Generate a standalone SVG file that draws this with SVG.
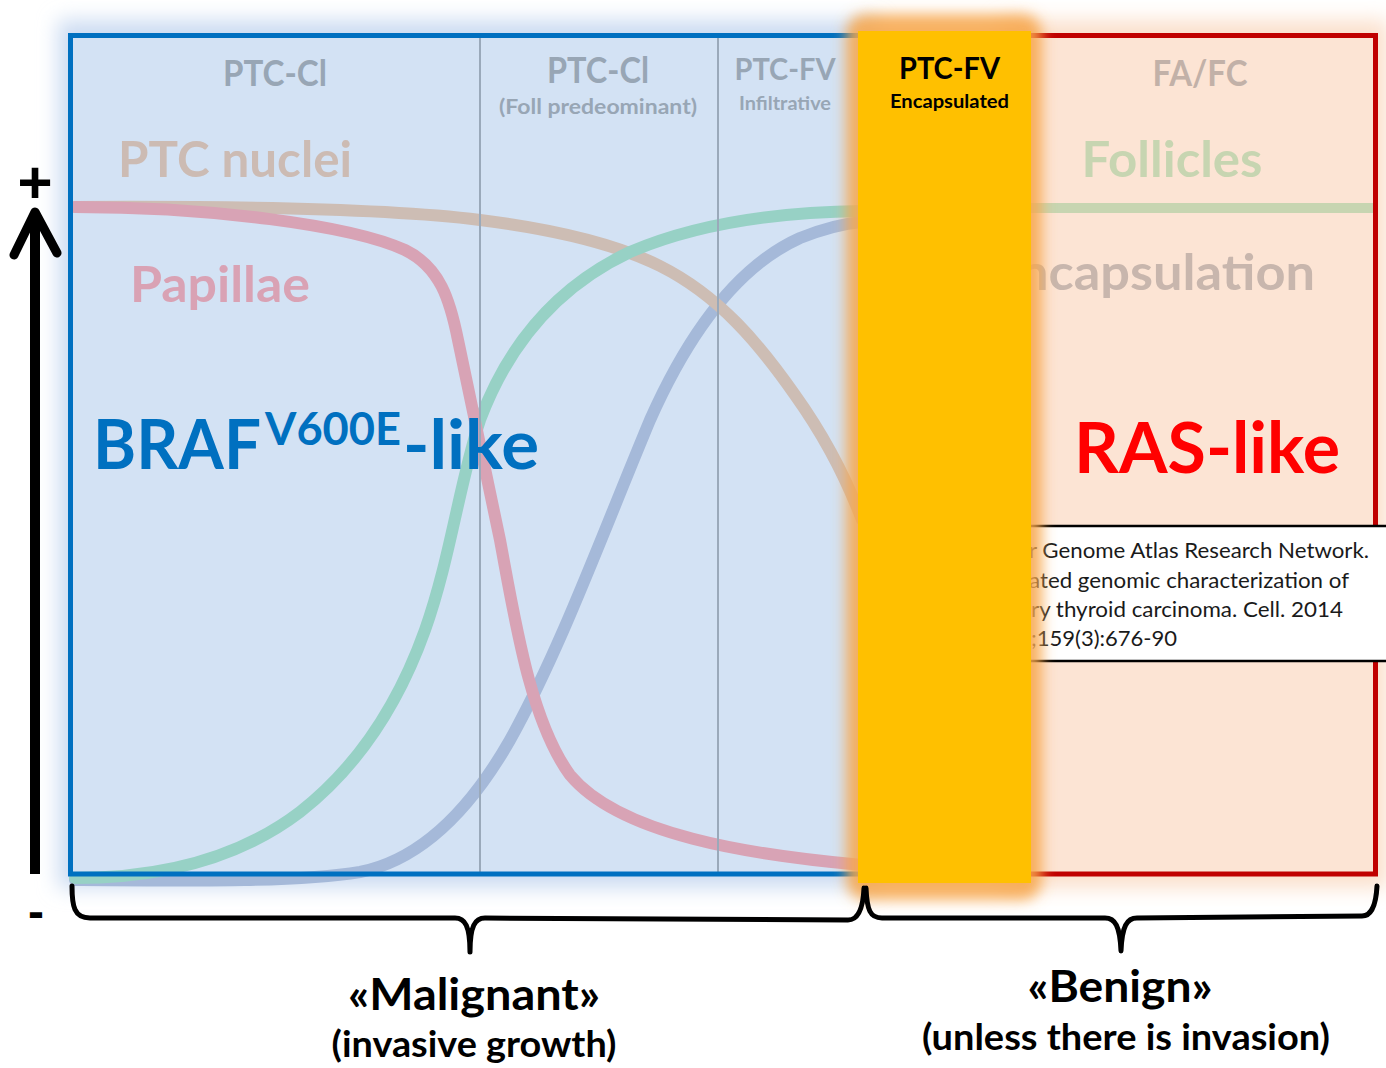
<svg xmlns="http://www.w3.org/2000/svg" width="1386" height="1068" viewBox="0 0 1386 1068">
<style>
text{font-family:Lato,"Open Sans","Liberation Sans",sans-serif;font-weight:bold;text-anchor:middle}
.hdr{fill:#98A6B5}
.big{font-size:49px}
.curve{fill:none;stroke-width:12;stroke-linecap:round}
.brace{fill:none;stroke:#000;stroke-width:5;stroke-linecap:round;stroke-linejoin:round}
.cite{font-weight:normal;font-size:21px;fill:#1a1a1a;text-anchor:start}
.lbl{fill:#000}
</style>
<defs>
<filter id="halo" x="-10%" y="-10%" width="120%" height="120%"><feGaussianBlur stdDeviation="10"/></filter>
<filter id="glow" x="-30%" y="-6%" width="160%" height="112%"><feGaussianBlur stdDeviation="7"/></filter>
</defs>
<rect width="1386" height="1068" fill="#fff"/>

<g id="halos">
<rect x="58" y="20" width="820" height="868" fill="#CCDCF2" filter="url(#halo)"/>
<rect x="1000" y="20" width="388" height="868" fill="#FBE0CC" filter="url(#halo)"/>
</g>

<g id="braf-panel">
<rect x="70.5" y="35.5" width="810" height="838.5" fill="#D3E2F4"/>
</g>
<g id="ras-panel">
<rect x="1000" y="35.5" width="375.5" height="838.5" fill="#FCE4D4"/>
</g>

<g id="connectors">
<path class="curve" stroke="#A5B9D9" d="M75,880 C200,881 300,882 360,872 C420,860 470,810 510,740 C560,650 600,540 650,420 C690,330 740,265 800,238 C830,226 850,223 862,222"/>
<path class="curve" stroke="#CDBDB4" d="M75,207 C250,206 400,210 480,220 C560,230 620,246 660,266 C720,296 760,345 795,395 C820,430 845,475 862,520"/>
<path class="curve" stroke="#97D1C5" d="M75,878 C180,878 250,850 300,812 C360,765 400,700 425,630 C450,560 460,480 480,420 C510,340 560,285 630,252 C700,222 780,212 862,211"/>
<path class="curve" stroke="#D8A3B5" d="M75,207 C210,207 350,225 405,250 C440,267 450,300 458,340 C470,400 485,470 500,540 C515,620 530,720 570,775 C620,835 750,855 862,865"/>
<line x1="1000" y1="208" x2="1373" y2="208" stroke="#C7D5B1" stroke-width="10"/>
</g>

<g id="dividers" stroke="#9AA9BA" stroke-width="2">
<line x1="480" y1="38" x2="480" y2="872"/>
<line x1="718" y1="38" x2="718" y2="872"/>
</g>

<g id="borders" fill="none" stroke-width="5">
<rect x="70.5" y="35.5" width="810" height="838.5" stroke="#0070C0"/>
<rect x="1000" y="35.5" width="375.5" height="838.5" stroke="#C00000"/>
</g>

<g id="col-ptc-cl">
<text class="hdr" x="275" y="86" font-size="36" textLength="104" lengthAdjust="spacingAndGlyphs">PTC-Cl</text>
</g>
<g id="col-ptc-cl-foll">
<text class="hdr" x="598" y="83" font-size="36" textLength="102" lengthAdjust="spacingAndGlyphs">PTC-Cl</text>
<text class="hdr" x="598" y="114" font-size="21" textLength="198" lengthAdjust="spacingAndGlyphs">(Foll predeominant)</text>
</g>
<g id="col-ptc-fv-inf">
<text class="hdr" x="785" y="80" font-size="31" textLength="101" lengthAdjust="spacingAndGlyphs">PTC-FV</text>
<text class="hdr" x="785" y="110" font-size="18" textLength="92" lengthAdjust="spacingAndGlyphs">Infiltrative</text>
</g>
<g id="col-fa-fc">
<text fill="#C2B1A8" x="1200" y="86" font-size="36" textLength="95" lengthAdjust="spacingAndGlyphs">FA/FC</text>
</g>

<g id="label-ptc-nuclei"><text class="big" fill="#CCBBB3" x="235" y="177" textLength="234" lengthAdjust="spacingAndGlyphs">PTC nuclei</text></g>
<g id="label-papillae"><text class="big" fill="#D9A2B4" x="220" y="302" textLength="180" lengthAdjust="spacingAndGlyphs">Papillae</text></g>
<g id="label-follicles"><text class="big" fill="#C7D5B1" x="1172" y="177" textLength="181" lengthAdjust="spacingAndGlyphs">Follicles</text></g>
<g id="label-encapsulation"><text class="big" fill="#C8B6AD" x="1315" y="290" style="text-anchor:end" textLength="296" lengthAdjust="spacingAndGlyphs">ncapsulation</text></g>

<g id="label-braf">
<text fill="#0070C0" style="text-anchor:start"><tspan x="93" y="469" font-size="68" textLength="168" lengthAdjust="spacingAndGlyphs">BRAF</tspan><tspan x="265" y="445" font-size="46" textLength="136" lengthAdjust="spacingAndGlyphs">V600E</tspan><tspan x="403" y="469" font-size="68" textLength="136" lengthAdjust="spacingAndGlyphs">-like</tspan></text>
</g>
<g id="label-ras"><text fill="#FF0000" x="1207" y="473" font-size="70" textLength="266" lengthAdjust="spacingAndGlyphs">RAS-like</text></g>

<g id="citation">
<rect x="1000" y="526" width="390" height="135" fill="#fff"/>
<line x1="1000" y1="526" x2="1386" y2="526" stroke="#000" stroke-width="2.5"/>
<line x1="1000" y1="661" x2="1386" y2="661" stroke="#000" stroke-width="2.5"/>
<text class="cite" x="1029" y="558" textLength="340" lengthAdjust="spacingAndGlyphs">r Genome Atlas Research Network.</text>
<text class="cite" x="1029" y="588" textLength="320" lengthAdjust="spacingAndGlyphs">ated genomic characterization of</text>
<text class="cite" x="1031" y="617" textLength="312" lengthAdjust="spacingAndGlyphs">ry thyroid carcinoma. Cell. 2014</text>
<text class="cite" x="1031" y="646" textLength="146" lengthAdjust="spacingAndGlyphs">;159(3):676-90</text>
</g>

<g id="ptc-fv-encapsulated">
<rect x="846" y="14" width="196" height="886" rx="20" fill="#F7A64B" fill-opacity="0.88" filter="url(#glow)"/>
<rect x="858" y="31" width="173" height="852" fill="#FFC000"/>
<text class="lbl" x="949.5" y="79" font-size="31" textLength="101" lengthAdjust="spacingAndGlyphs">PTC-FV</text>
<text class="lbl" x="949.5" y="108" font-size="19" textLength="119" lengthAdjust="spacingAndGlyphs">Encapsulated</text>
</g>

<g id="y-axis">
<line x1="35" y1="874" x2="35" y2="218" stroke="#000" stroke-width="10"/>
<polyline points="14,255 35,212 57,253" fill="none" stroke="#000" stroke-width="9" stroke-linecap="round" stroke-linejoin="round"/>
<text x="35" y="203" font-size="60" style="font-family:'Liberation Sans',sans-serif" fill="#000">+</text>
<text x="36" y="928" style="font-family:'Liberation Sans',sans-serif" font-size="48" fill="#000">-</text>
</g>

<g id="malignant">
<path class="brace" d="M72,886 C72,906 74,918 90,918 L455,918 C465,918 470,926 470,952 C470,926 475,918 485,918 L848,920 C858,920 863,910 864,888"/>
<text class="lbl" x="474" y="1010" font-size="44" textLength="252" lengthAdjust="spacingAndGlyphs">«Malignant»</text>
<text class="lbl" x="474" y="1057" font-size="36" textLength="285" lengthAdjust="spacingAndGlyphs">(invasive growth)</text>
</g>
<g id="benign">
<path class="brace" d="M866,888 C867,910 870,918 882,918 L1105,918 C1115,918 1120,926 1121,951 C1122,926 1127,918 1137,918 L1362,916 C1372,916 1376,905 1377,886"/>
<text class="lbl" x="1120" y="1002" font-size="44" textLength="185" lengthAdjust="spacingAndGlyphs">«Benign»</text>
<text class="lbl" x="1126" y="1050" font-size="36" textLength="408" lengthAdjust="spacingAndGlyphs">(unless there is invasion)</text>
</g>
</svg>
